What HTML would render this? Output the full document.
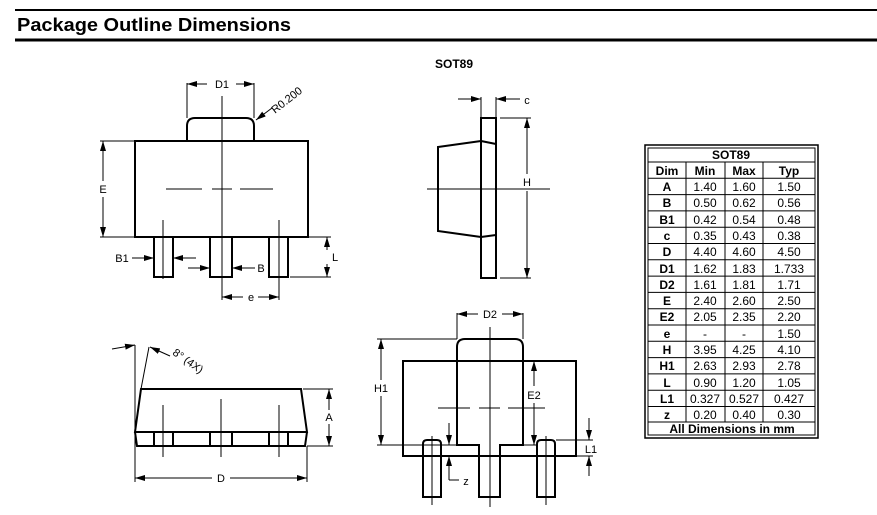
<!DOCTYPE html>
<html><head><meta charset="utf-8"><style>
html,body{margin:0;padding:0;background:#fff;width:877px;height:515px;overflow:hidden}
svg{display:block;font-family:"Liberation Sans",Arial,sans-serif}
</style></head><body>
<svg width="877" height="515" viewBox="0 0 877 515" xmlns="http://www.w3.org/2000/svg">
<defs>
<marker id="a" viewBox="0 0 10 6" refX="10" refY="3" markerWidth="10" markerHeight="6" orient="auto" markerUnits="userSpaceOnUse"><path d="M0,0 L10,3 L0,6 z" fill="#000"/></marker>
</defs>
<line x1="15" y1="10" x2="877" y2="10" stroke="#000" stroke-width="2"/>
<line x1="15" y1="40" x2="877" y2="40" stroke="#000" stroke-width="3"/>
<text x="17" y="31" font-size="18" font-weight="bold" textLength="274" lengthAdjust="spacingAndGlyphs">Package Outline Dimensions</text>
<text x="454" y="68" font-size="12" font-weight="bold" text-anchor="middle">SOT89</text>

<g fill="none" stroke="#000" stroke-width="2">
<!-- top view -->
<rect x="135" y="141" width="173" height="96"/>
<path d="M187,141 V126 Q187,118 195,118 H246 Q254,118 254,126 V141"/>
<rect x="154" y="237" width="19" height="40"/>
<rect x="210" y="237" width="22" height="40"/>
<rect x="269" y="237" width="19" height="40"/>
<!-- side view -->
<rect x="481" y="118" width="15" height="160"/>
<path d="M481,141 L438,147 V231 L481,237 M481,141 L496,144 M481,237 L496,235"/>
<!-- front view -->
<path d="M141,389 H301 L307,432 H135 Z"/>
<path d="M135,432 L137,446 H305 L307,432"/>
<path d="M154,432V446M173,432V446M210,432V446M232,432V446M269,432V446M288,432V446"/>
<!-- bottom view -->
<rect x="403" y="361" width="173" height="95"/>
<path d="M457,445 V347 Q457,339 465,339 H515 Q523,339 523,347 V445 H500 V497 H479 V445 Z"/>
<path d="M423,497 V444 Q423,440 427,440 H437 Q441,440 441,444 V497 Z"/>
<path d="M537,497 V444 Q537,440 541,440 H551 Q555,440 555,444 V497 Z"/>
</g>

<g fill="none" stroke="#000" stroke-width="1">
<!-- top view center lines -->
<path d="M222,96 V300 M166,189 H202 M212,189 H232 M240,189 H273 M163,220 V279 M279,220 V279"/>
<!-- D1 -->
<path d="M187,83 V118 M254,83 V118"/>
<line x1="207" y1="84" x2="187" y2="84" marker-end="url(#a)"/>
<line x1="236" y1="84" x2="254" y2="84" marker-end="url(#a)"/>
<line x1="272" y1="108" x2="256" y2="120" marker-end="url(#a)"/>
<!-- E -->
<path d="M100,141 H135 M100,237 H135"/>
<line x1="103" y1="181" x2="103" y2="141" marker-end="url(#a)"/>
<line x1="103" y1="197" x2="103" y2="237" marker-end="url(#a)"/>
<!-- B1 -->
<line x1="132" y1="258" x2="154" y2="258" marker-end="url(#a)"/>
<line x1="196" y1="258" x2="173" y2="258" marker-end="url(#a)"/>
<!-- B -->
<line x1="188" y1="268" x2="210" y2="268" marker-end="url(#a)"/>
<line x1="255" y1="268" x2="232" y2="268" marker-end="url(#a)"/>
<!-- L -->
<path d="M290,237 H331 M290,277 H331"/>
<line x1="327" y1="250" x2="327" y2="237" marker-end="url(#a)"/>
<line x1="327" y1="264" x2="327" y2="277" marker-end="url(#a)"/>
<!-- e -->
<path d="M279,279 V300"/>
<line x1="243" y1="297" x2="222" y2="297" marker-end="url(#a)"/>
<line x1="258" y1="297" x2="279" y2="297" marker-end="url(#a)"/>

<!-- side view -->
<path d="M427,189 H550 M481,97 V118 M496,97 V118 M500,118 H531 M500,278 H531"/>
<line x1="458" y1="99" x2="481" y2="99" marker-end="url(#a)"/>
<line x1="520" y1="99" x2="496" y2="99" marker-end="url(#a)"/>
<line x1="527" y1="174" x2="527" y2="118" marker-end="url(#a)"/>
<line x1="527" y1="191" x2="527" y2="278" marker-end="url(#a)"/>

<!-- front view -->
<path d="M163,405 V457 M221,399 V457 M279,405 V457 M135,345 V482 M307,446 V482 M141,389 L149,347 M303,389 H333 M307,446 H333"/>
<line x1="112" y1="349" x2="135" y2="345" marker-end="url(#a)"/>
<line x1="170" y1="356" x2="150" y2="347" marker-end="url(#a)"/>
<line x1="329" y1="410" x2="329" y2="389" marker-end="url(#a)"/>
<line x1="329" y1="424" x2="329" y2="446" marker-end="url(#a)"/>
<line x1="212" y1="478" x2="135" y2="478" marker-end="url(#a)"/>
<line x1="230" y1="478" x2="307" y2="478" marker-end="url(#a)"/>

<!-- bottom view -->
<path d="M490,327 V507 M438,408 H470 M479,408 H500 M508,408 H545 M432,436 V505 M546,436 V505"/>
<path d="M457,313 V339 M523,313 V339"/>
<line x1="478" y1="314" x2="457" y2="314" marker-end="url(#a)"/>
<line x1="502" y1="314" x2="523" y2="314" marker-end="url(#a)"/>
<path d="M377,339 H457 M377,445 H457 M523,445 H537 M556,440 H593 M576,456 H593"/>
<line x1="381" y1="380" x2="381" y2="339" marker-end="url(#a)"/>
<line x1="381" y1="396" x2="381" y2="445" marker-end="url(#a)"/>
<line x1="534" y1="386" x2="534" y2="361" marker-end="url(#a)"/>
<line x1="534" y1="403" x2="534" y2="445" marker-end="url(#a)"/>
<line x1="589" y1="418" x2="589" y2="440" marker-end="url(#a)"/>
<line x1="589" y1="476" x2="589" y2="456" marker-end="url(#a)"/>
<line x1="449" y1="423" x2="449" y2="445" marker-end="url(#a)"/>
<line x1="449" y1="480" x2="449" y2="456" marker-end="url(#a)"/>
<path d="M449,480 H459"/>
</g>

<g font-size="11" text-anchor="middle">
<text x="222" y="88">D1</text>
<text x="289" y="103" transform="rotate(-38 289 103)">R0.200</text>
<text x="103" y="193">E</text>
<text x="122" y="262">B1</text>
<text x="261" y="272">B</text>
<text x="335" y="261">L</text>
<text x="251" y="301">e</text>
<text x="527" y="104">c</text>
<text x="527" y="186">H</text>
<text x="329" y="421">A</text>
<text x="221" y="482">D</text>
<text x="186" y="364" transform="rotate(35 186 364)">8° (4X)</text>
<text x="490" y="318">D2</text>
<text x="381" y="392">H1</text>
<text x="534" y="399">E2</text>
<text x="591" y="453">L1</text>
<text x="466" y="485">z</text>
</g>

<!-- table -->
<g>
<rect x="645" y="145" width="173" height="293" fill="none" stroke="#000" stroke-width="1.5"/>
<rect x="648" y="148" width="167" height="287" fill="none" stroke="#000" stroke-width="1"/>
<g stroke="#000" stroke-width="1">
<line x1="648" y1="162" x2="815" y2="162"/>
<line x1="648" y1="178.3" x2="815" y2="178.3"/>
<line x1="648" y1="194.6" x2="815" y2="194.6"/>
<line x1="648" y1="210.9" x2="815" y2="210.9"/>
<line x1="648" y1="227.2" x2="815" y2="227.2"/>
<line x1="648" y1="243.5" x2="815" y2="243.5"/>
<line x1="648" y1="259.8" x2="815" y2="259.8"/>
<line x1="648" y1="276.1" x2="815" y2="276.1"/>
<line x1="648" y1="292.4" x2="815" y2="292.4"/>
<line x1="648" y1="308.7" x2="815" y2="308.7"/>
<line x1="648" y1="325" x2="815" y2="325"/>
<line x1="648" y1="341.3" x2="815" y2="341.3"/>
<line x1="648" y1="357.6" x2="815" y2="357.6"/>
<line x1="648" y1="373.9" x2="815" y2="373.9"/>
<line x1="648" y1="390.2" x2="815" y2="390.2"/>
<line x1="648" y1="406.5" x2="815" y2="406.5"/>
<line x1="648" y1="422" x2="815" y2="422"/>
<line x1="686" y1="162" x2="686" y2="422"/>
<line x1="725" y1="162" x2="725" y2="422"/>
<line x1="763" y1="162" x2="763" y2="422"/>
</g>
<g font-size="12" text-anchor="middle">
<text x="731" y="159" font-weight="bold">SOT89</text>
<text x="732" y="433" font-weight="bold">All Dimensions in mm</text>
<g font-weight="bold">
<text x="667" y="175">Dim</text><text x="705" y="175">Min</text><text x="744" y="175">Max</text><text x="789" y="175">Typ</text>
<text x="667" y="191">A</text><text x="667" y="207">B</text><text x="667" y="224">B1</text><text x="667" y="240">c</text><text x="667" y="256">D</text><text x="667" y="273">D1</text><text x="667" y="289">D2</text><text x="667" y="305">E</text><text x="667" y="321">E2</text><text x="667" y="338">e</text><text x="667" y="354">H</text><text x="667" y="370">H1</text><text x="667" y="387">L</text><text x="667" y="403">L1</text><text x="667" y="419">z</text>
</g>
<text x="705" y="191">1.40</text><text x="744" y="191">1.60</text><text x="789" y="191">1.50</text>
<text x="705" y="207">0.50</text><text x="744" y="207">0.62</text><text x="789" y="207">0.56</text>
<text x="705" y="224">0.42</text><text x="744" y="224">0.54</text><text x="789" y="224">0.48</text>
<text x="705" y="240">0.35</text><text x="744" y="240">0.43</text><text x="789" y="240">0.38</text>
<text x="705" y="256">4.40</text><text x="744" y="256">4.60</text><text x="789" y="256">4.50</text>
<text x="705" y="273">1.62</text><text x="744" y="273">1.83</text><text x="789" y="273">1.733</text>
<text x="705" y="289">1.61</text><text x="744" y="289">1.81</text><text x="789" y="289">1.71</text>
<text x="705" y="305">2.40</text><text x="744" y="305">2.60</text><text x="789" y="305">2.50</text>
<text x="705" y="321">2.05</text><text x="744" y="321">2.35</text><text x="789" y="321">2.20</text>
<text x="705" y="338">-</text><text x="744" y="338">-</text><text x="789" y="338">1.50</text>
<text x="705" y="354">3.95</text><text x="744" y="354">4.25</text><text x="789" y="354">4.10</text>
<text x="705" y="370">2.63</text><text x="744" y="370">2.93</text><text x="789" y="370">2.78</text>
<text x="705" y="387">0.90</text><text x="744" y="387">1.20</text><text x="789" y="387">1.05</text>
<text x="705" y="403">0.327</text><text x="744" y="403">0.527</text><text x="789" y="403">0.427</text>
<text x="705" y="419">0.20</text><text x="744" y="419">0.40</text><text x="789" y="419">0.30</text>
</g>
</g>
</svg>
</body></html>
